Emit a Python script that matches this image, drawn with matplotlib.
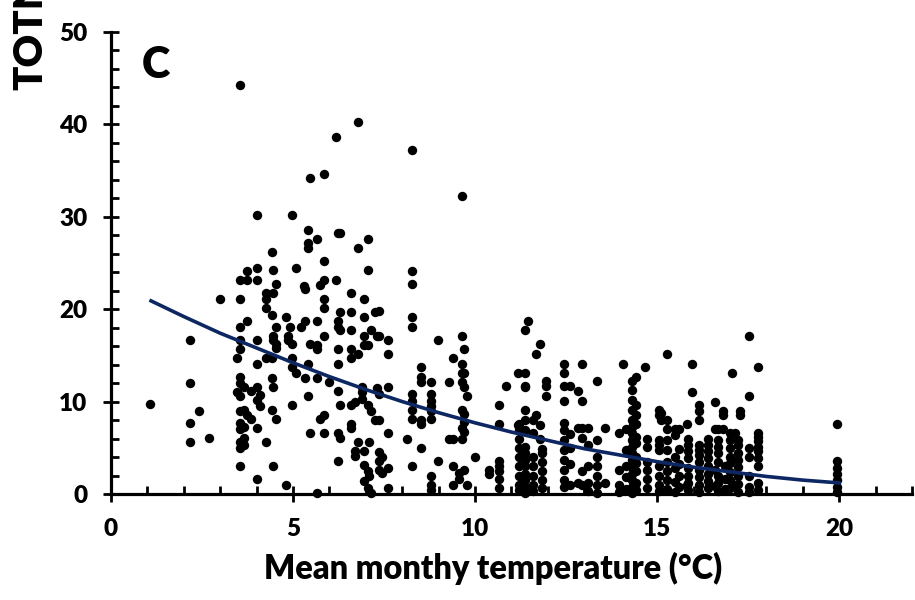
import matplotlib

matplotlib.use("Agg")
import matplotlib.pyplot as plt
from matplotlib.ticker import MultipleLocator

# Monthly samples grouped by mean monthly temperature (°C): (temp, [TOTN, ...])
cold_months = [
    (1.06, [9.7]),
    (2.18, [16.7, 12.0, 7.7, 5.6]),
    (2.41, [9.0]),
    (2.68, [6.1]),
    (3.0, [21.1]),
    (3.45, [14.7, 11.0]),
    (3.55, [44.3, 23.2, 21.1, 18.1, 16.7, 15.7, 12.7, 12.0, 10.6, 9.0, 7.7, 7.0, 5.6, 5.0, 3.0]),
    (3.65, [11.6, 9.1, 7.3, 6.1, 5.3]),
    (3.74, [24.1, 23.2, 18.7, 8.5]),
    (3.85, [11.1, 8.1]),
    (4.0, [30.2, 24.5, 23.2, 16.7, 14.1, 11.6, 10.2, 7.1, 1.6]),
    (4.1, [10.7, 9.5]),
    (4.25, [21.7, 21.1, 20.1, 14.7, 5.6]),
    (4.41, [26.2, 19.4, 14.7, 12.6, 9.1]),
    (4.46, [24.2, 21.7, 17.1, 16.7, 11.6, 3.0]),
    (4.52, [22.7, 18.1, 16.2, 15.8, 8.1]),
    (4.82, [19.1, 1.0]),
    (4.86, [17.1, 16.7]),
    (4.92, [18.1]),
    (4.96, [30.2, 16.2, 14.7, 13.7, 9.6]),
    (5.07, [24.5, 13.1]),
    (5.22, [18.1]),
    (5.3, [22.5]),
    (5.33, [22.2, 18.7, 12.6]),
    (5.42, [28.6, 27.2, 26.6, 14.1, 10.6]),
    (5.47, [34.2, 16.2, 6.6]),
    (5.67, [27.6, 18.7, 16.1, 15.7, 12.6, 0.1]),
    (5.74, [22.6, 8.1]),
    (5.84, [34.6, 25.2, 23.2, 21.1, 20.1, 17.1, 8.5, 6.6]),
    (5.98, [12.1]),
    (6.19, [38.6, 23.2]),
    (6.24, [28.2, 18.7, 18.1, 15.7, 14.1, 11.1, 6.6, 3.6]),
    (6.3, [28.2, 19.7, 17.7, 9.6, 6.1]),
    (6.6, [21.7, 19.7, 17.7, 15.7, 14.7, 9.6, 7.6, 7.1]),
    (6.7, [10.0, 4.6, 4.1]),
    (6.78, [40.3, 26.6, 15.2, 5.6]),
    (6.9, [11.6, 11.0, 10.3]),
    (6.95, [21.1, 19.1, 17.1, 16.1, 4.6, 3.1, 1.4]),
    (7.05, [27.6, 24.2, 16.1, 9.6, 2.5, 0.7]),
    (7.1, [5.6, 2.0]),
    (7.15, [17.7, 9.0, 0.15]),
    (7.25, [19.7, 8.0]),
    (7.3, [17.1, 11.5]),
    (7.35, [19.8, 17.1, 10.8, 8.0, 4.5, 3.6, 2.6]),
    (7.45, [4.0, 2.3]),
    (7.6, [16.7, 15.2, 11.6, 6.6, 2.8, 0.6]),
    (8.12, [6.0]),
    (8.27, [37.2, 24.1, 22.7, 19.1, 18.1, 10.8, 10.1, 9.1, 8.1, 3.0]),
    (8.52, [13.7, 12.7, 12.1, 8.0, 7.6, 5.0]),
    (8.78, [12.1, 10.8, 10.1, 9.5, 9.0, 8.1, 2.0, 1.0, 0.4]),
    (8.99, [16.7, 3.6]),
    (9.29, [12.1, 6.0]),
    (9.39, [14.7, 6.0, 3.0, 1.0]),
    (9.55, [2.3, 1.6]),
    (9.64, [32.2, 17.1, 14.1, 13.1, 12.1, 9.1, 7.1, 6.0]),
    (9.7, [15.7, 13.1, 11.6, 8.7, 7.8, 6.7, 2.6]),
    (9.79, [10.6, 1.0]),
    (9.99, [4.0]),
]

mild_months = [
    (10.37, [2.6, 2.2]),
    (10.66, [9.6, 7.6, 3.6, 3.0, 2.5, 1.6, 0.6]),
    (10.86, [11.7]),
    (11.17, [13.1, 7.5]),
    (11.2, [7.6, 6.9, 6.0, 5.0, 4.0, 3.0, 2.0, 1.0, 0.4]),
    (11.36, [17.7, 13.1, 11.7, 11.6, 9.1, 8.0, 6.9, 5.1, 4.4, 3.7, 3.0, 2.2, 1.5, 0.8, 0.1]),
    (11.45, [18.7]),
    (11.6, [8.0, 6.6, 4.0, 3.0, 2.0, 1.0, 0.3]),
    (11.68, [15.1, 8.5]),
    (11.78, [16.2, 7.5, 5.9]),
    (11.85, [4.9, 4.4, 3.5, 2.5, 1.5, 0.6]),
    (11.94, [12.2, 11.7, 10.6]),
    (12.45, [14.1, 13.1, 11.7, 10.1, 7.7, 6.9, 5.8, 4.8, 3.7, 2.6, 1.5, 0.8]),
    (12.6, [11.7, 6.5, 5.0, 3.2, 1.0]),
    (12.84, [11.1, 7.1, 1.2]),
    (12.95, [14.1, 10.1, 7.1, 6.1, 2.5, 1.0]),
    (13.1, [7.1, 5.3, 3.0, 1.2, 0.3]),
    (13.36, [12.2, 5.8, 4.0, 3.0, 2.0, 1.0, 0.1]),
    (13.56, [7.1, 1.2]),
    (13.95, [6.6, 2.6, 1.0, 0.2]),
]

warm_months = [
    (14.07, [14.1]),
    (14.15, [7.0, 4.8, 3.0, 1.8, 0.5]),
    (14.3, [12.2, 11.3, 10.2, 9.1, 8.0, 7.3, 6.6, 5.8, 5.1, 4.4, 3.7, 2.9, 2.2, 1.5, 0.8, 0.1]),
    (14.42, [12.7, 9.6, 8.5, 7.6, 6.2, 5.5, 4.0, 3.3, 2.5, 1.2, 0.4]),
    (14.66, [13.7]),
    (14.72, [6.0, 5.1, 3.5, 2.6, 1.6, 0.6]),
    (15.05, [9.1, 8.5, 5.8, 5.3, 4.8, 3.0, 1.9, 1.0, 0.3]),
    (15.1, [8.8, 8.0]),
    (15.27, [15.1, 8.0, 7.0, 5.8, 4.8, 3.5, 2.5, 1.5, 0.5]),
    (15.5, [7.0, 6.4, 4.0, 2.8, 1.3, 0.2]),
    (15.6, [7.0, 4.9, 3.2, 2.0, 0.8]),
    (15.82, [7.6, 1.0]),
    (15.86, [6.0, 5.3, 4.6, 3.9, 2.8, 2.0, 1.2, 0.4]),
    (15.95, [14.1, 11.0]),
    (16.14, [9.6, 9.0, 8.0, 5.3, 4.8, 4.2, 3.5, 2.6, 1.8, 1.0, 0.2]),
    (16.41, [6.0, 5.3, 4.6, 3.9, 3.0, 2.2, 1.4, 0.6]),
    (16.6, [10.0, 7.0, 2.6, 0.9]),
    (16.68, [7.0, 5.8, 5.1, 4.4, 3.5, 2.0, 1.2, 0.3]),
    (16.8, [9.0, 8.6, 7.0]),
    (16.87, [3.0, 1.6, 0.5]),
    (17.0, [6.6, 5.8, 5.0, 4.0, 3.3, 2.4, 1.5, 0.7]),
    (17.07, [13.1]),
    (17.14, [6.6, 1.0]),
    (17.23, [5.8, 5.3, 4.4, 3.7, 2.9, 2.0, 1.1, 0.2]),
    (17.27, [9.0, 8.6]),
    (17.52, [17.1, 10.6, 5.0, 4.0, 1.9, 0.8, 0.2]),
    (17.77, [13.7, 6.6, 6.2, 5.7, 5.1, 4.6, 3.9, 3.0, 1.2, 0.4]),
    (19.95, [7.6, 3.6, 2.8, 2.2, 1.5, 0.8, 0.2]),
]

# Fitted trend, read along the temperature range
curve_temp = [1.1, 2, 3, 4, 5, 6, 7, 8, 9, 10, 11, 12, 13, 14, 15, 16, 17, 18, 19, 20]
curve_totn = [20.9, 19.2, 17.4, 15.8, 14.2, 12.7, 11.3, 10.0, 8.8, 7.7,
              6.7, 5.8, 4.9, 4.2, 3.5, 2.9, 2.4, 1.9, 1.5, 1.2]

FONT = ["Lato", "DejaVu Sans"]
WEIGHT = "heavy"
INK = "black"
CURVE = "#0d2763"

temp = [t for grp in (cold_months, mild_months, warm_months) for t, ys in grp for _ in ys]
totn = [y for grp in (cold_months, mild_months, warm_months) for _, ys in grp for y in ys]

plt.rcParams["font.family"] = FONT
plt.rcParams["font.weight"] = WEIGHT

fig = plt.figure(figsize=(9.15, 6.0), dpi=100)
ax = fig.add_axes([0.1213, 0.1767, 0.8754, 0.77])

ax.scatter(temp, totn, s=46, color=INK, linewidths=0, zorder=3, clip_on=False)
ax.plot(curve_temp, curve_totn, color=CURVE, lw=2.6, zorder=4)

ax.set_xlim(0, 22)
ax.set_ylim(0, 50)
ax.xaxis.set_major_locator(MultipleLocator(5))
ax.xaxis.set_minor_locator(MultipleLocator(1))
ax.yaxis.set_major_locator(MultipleLocator(10))
ax.yaxis.set_minor_locator(MultipleLocator(2))
ax.set_xticks([0, 5, 10, 15, 20])

for side in ("top", "right"):
    ax.spines[side].set_visible(False)
for side in ("left", "bottom"):
    ax.spines[side].set_linewidth(2.3)
    ax.spines[side].set_zorder(5)

ax.tick_params(which="major", direction="inout", length=12, width=2.0,
               labelsize=17.5, pad=11, colors=INK)
ax.tick_params(which="minor", direction="in", length=6, width=2.0)
for lab in ax.get_xticklabels() + ax.get_yticklabels():
    lab.set_fontweight(WEIGHT)

ax.set_xlabel("Mean monthy temperature (°C)", fontsize=23.5, fontweight=WEIGHT)
ax.xaxis.set_label_coords(0.477, -0.125)

ax.text(1.23, 46.4, "C", fontsize=31, fontweight=WEIGHT, ha="center", va="center")

# y-axis title sits high, running off the top edge
fig.text(31 / 915, 1 - 90 / 600, "TOTN", rotation=90, fontsize=29,
         fontweight=WEIGHT, ha="center", va="bottom")

fig.savefig("out.png", dpi=100)
